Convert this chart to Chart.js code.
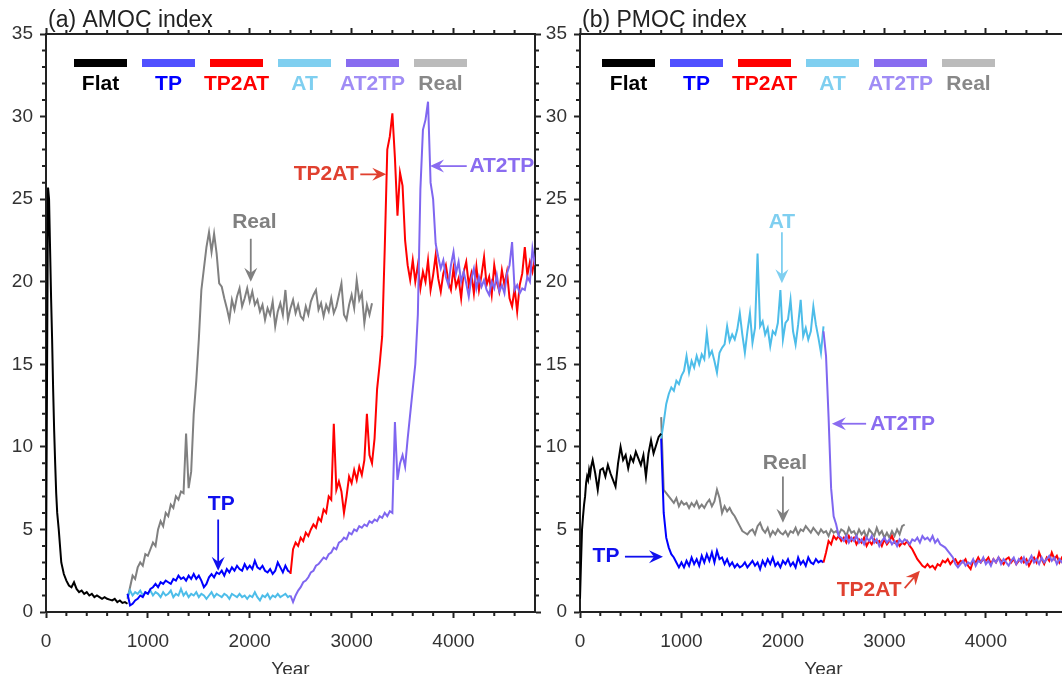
<!DOCTYPE html>
<html>
<head>
<meta charset="utf-8">
<script src="https://cdn.jsdelivr.net/npm/chart.js@4.4.1/dist/chart.umd.min.js"></script>
<style>
    html, body {
        margin: 0;
        padding: 0;
        background: #ffffff;
        overflow: hidden;
        width: 1062px;
        height: 674px;
    }
    canvas { position: absolute; top: 0; }
    #amocCanvas { left: 0; }
    #pmocCanvas { left: 530px; }
</style>
</head>
<body>
<canvas id="amocCanvas" width="545" height="674"></canvas>
<canvas id="pmocCanvas" width="550" height="674"></canvas>
<script>
/* =========================
   DATA (years, Sv)
========================= */

const seriesNames = ['Flat', 'TP', 'TP2AT', 'AT', 'AT2TP', 'Real'];

const STEP = 25;          // sampling step of the noisy runs (years)
const BRANCH_YEAR = 800;  // TP / AT / Real start here
const SWITCH_YEAR = 2400; // TP2AT / AT2TP start here

const flatYears = [0, 10, 20, 30, 40, 50, 60, 70, 80, 90, 100, 110, 125, 150, 175, 200, 225, 250, 275, 300,
    325, 350, 375, 400, 425, 450, 475, 500, 525, 550, 575, 600, 625, 650, 675, 700, 725, 750, 775, 800];

// (a) AMOC index
const amocFlat = [2.0, 14, 25.7, 25.0, 22.0, 19.0, 16.5, 13.5, 11.0, 9.0, 7.2, 6.0, 5.0, 3.0, 2.3, 1.9, 1.6, 1.5, 1.8, 1.4,
    1.2, 1.3, 1.1, 1.2, 1.0, 1.1, 0.9, 1.0, 0.9, 0.8, 0.9, 0.8, 0.75, 0.7, 0.8, 0.6, 0.7, 0.55, 0.6, 0.5];

const amocTP = [1.1, 0.4, 0.5, 0.7, 0.8, 1.0, 0.9, 1.2, 1.1, 1.4,
    1.5, 1.7, 1.5, 1.8, 1.7, 1.9, 1.8, 1.7, 2.0, 1.9,
    2.2, 2.0, 2.1, 1.9, 2.2, 2.0, 2.3, 2.0, 2.2, 1.9,
    1.5, 1.7, 2.1, 2.3, 2.1, 2.4, 2.3, 2.5, 2.2, 2.6,
    2.4, 2.7, 2.5, 2.8, 2.6, 2.5, 2.9, 2.6, 2.8, 2.6,
    3.1, 2.7, 2.6, 2.8, 2.5, 2.4, 2.6, 2.3, 2.5, 3.0,
    2.7, 2.4, 2.8, 2.5, 2.4];

const amocAT = [0.9, 1.3, 1.0, 1.2, 1.1, 1.3, 1.0, 1.2, 1.1, 1.3,
    1.0, 1.2, 1.1, 0.9, 1.2, 1.0, 1.1, 1.3, 0.9, 1.1,
    1.0, 1.4, 1.0, 1.2, 0.9, 1.1, 1.0, 1.2, 0.9, 1.1,
    1.0, 0.8, 1.0, 1.2, 0.9, 1.1, 1.0, 0.9, 1.1, 1.0,
    0.8, 1.1, 1.0, 0.9, 1.1, 0.9, 1.0, 0.8, 1.0, 0.9,
    1.2, 0.9, 0.7, 1.0, 0.9, 1.1, 0.8, 1.0, 0.9, 1.1,
    0.9, 1.0, 1.1, 0.9, 1.0];

const amocTP2AT = [2.3, 3.8, 4.2, 4.0, 4.5, 4.3, 4.8, 4.6, 5.0, 5.3,
    5.1, 5.7, 5.5, 6.2, 6.0, 7.0, 6.8, 11.4, 7.4, 7.9,
    7.3, 6.0, 7.0, 8.2, 7.8, 8.6, 8.0, 8.8, 8.3, 9.2,
    12.0, 9.5, 9.0, 10.5, 13.5, 15.0, 16.7, 22.0, 28.0, 28.8,
    30.2, 27.5, 24.0, 26.6, 25.8, 22.5, 21.0, 20.1, 21.3, 20.0,
    21.0, 19.6, 20.6, 20.0, 21.3, 19.5, 20.4, 21.6, 20.2, 19.4,
    20.5, 21.0, 20.0, 19.5, 20.8, 19.7, 20.2, 19.0, 20.6, 21.2,
    19.8, 20.5, 19.3, 20.9, 19.5, 20.4, 21.5, 19.8, 20.3, 19.2,
    21.0, 20.0, 19.4, 20.7, 19.8, 20.6, 19.0, 18.5, 19.6, 18.2,
    19.8, 20.5, 22.1, 20.4, 21.2, 20.6, 21.5];

const amocAT2TP = [1.0, 0.6, 1.0, 1.3, 1.5, 1.8, 1.9, 2.1, 2.4, 2.5,
    2.8, 2.9, 3.1, 3.3, 3.2, 3.5, 3.6, 3.9, 3.8, 4.2,
    4.3, 4.5, 4.4, 4.8, 4.7, 5.0, 4.9, 5.2, 5.1, 5.3,
    5.2, 5.5, 5.4, 5.6, 5.5, 5.8, 5.7, 6.0, 5.8, 6.1,
    6.0, 11.5, 8.0, 9.0, 9.5, 8.8, 10.5, 12.0, 13.5, 15.0,
    18.0, 25.6, 29.2, 29.8, 30.9, 26.0, 25.0, 22.3, 21.5, 20.8,
    21.3, 20.3, 19.8, 21.0, 21.8, 20.5, 21.2, 20.0, 20.6, 19.9,
    19.1, 20.2, 20.8, 19.6, 20.3, 19.7, 20.1, 19.5, 19.2, 20.0,
    19.6, 20.4, 19.4, 19.8, 19.3, 20.5, 21.0, 22.4, 19.5, 19.8,
    19.3, 19.6, 19.5, 20.3, 20.0, 22.0, 21.0];

const amocReal = [0.8, 1.5, 2.2, 2.0, 2.7, 3.0, 2.8, 3.5, 3.4, 3.8,
    4.2, 4.0, 5.0, 5.5, 5.2, 6.0, 5.8, 6.5, 6.3, 7.0,
    6.8, 7.3, 7.2, 10.8, 7.5, 8.5, 12.0, 14.0, 16.5, 19.5,
    20.8, 22.1, 23.0, 21.8, 22.9, 21.7, 19.9, 19.7, 19.0, 18.4,
    17.7, 18.9, 18.3, 19.1, 19.6, 18.5, 19.0, 19.6, 18.8, 19.4,
    18.6, 18.9, 18.2, 18.6, 17.7, 18.4, 18.0, 18.8, 17.3, 18.2,
    18.7, 18.0, 19.5, 17.7, 18.4, 18.9, 18.1, 18.6, 17.9, 17.7,
    18.5, 18.0, 18.8, 19.2, 19.5, 18.3, 18.7, 17.9, 18.6, 18.2,
    19.0, 18.1, 18.5, 19.2, 19.9, 18.0, 17.7, 18.6, 19.2, 18.4,
    20.1, 18.9, 19.3, 17.5, 18.6, 18.0, 18.7];

// (b) PMOC index
const pmocFlat = [0.8, 3.0, 5.0, 5.8, 6.5, 7.0, 7.8, 8.2, 8.0, 8.6, 8.3, 8.8, 9.2, 8.4, 7.4, 8.6, 8.7, 8.2, 8.9, 8.4,
    8.0, 7.6, 9.0, 10.0, 9.2, 9.5, 8.7, 9.4, 9.1, 9.7, 9.3, 8.9, 9.5, 8.2, 9.6, 10.4, 9.6, 10.1, 10.6, 10.8];

const pmocTP = [10.5, 6.0, 4.5, 3.9, 3.5, 3.3, 3.0, 2.7, 3.0, 2.7,
    3.1, 2.8, 3.3, 2.9, 3.2, 2.8, 3.4, 3.0, 3.5, 3.1,
    3.6, 3.0, 3.7, 3.2, 3.3, 2.9, 3.2, 2.8, 3.0, 2.7,
    2.9, 2.7, 2.8, 3.0, 2.7, 2.9, 3.1, 2.8, 3.0, 2.6,
    3.1, 2.8, 3.2, 2.9, 3.3, 2.8, 3.0, 2.7, 3.1, 2.9,
    3.2, 2.8, 3.0, 2.7, 3.3, 2.9, 3.1, 2.8, 3.3, 3.0,
    2.9, 3.2, 3.0, 3.1, 3.0];

const pmocAT = [10.5, 11.5, 12.6, 13.2, 13.6, 13.4, 14.0, 13.8, 14.3, 14.6,
    15.5, 14.5, 15.2, 14.8, 15.5, 15.0, 15.6, 15.3, 16.9, 15.5,
    15.8, 15.2, 14.5, 15.7, 16.0, 16.2, 17.3, 16.4, 16.8, 16.5,
    17.1, 18.1, 16.8, 15.7, 17.0, 18.1, 16.3, 17.2, 21.7, 17.3,
    17.6, 16.8, 17.2, 16.1, 17.0, 16.8, 17.5, 19.5, 16.5, 17.5,
    17.7, 18.9, 17.0, 16.2, 17.4, 18.9, 16.7, 17.2, 16.5, 17.0,
    18.5, 17.4, 16.6, 15.7, 17.3];

const pmocTP2AT = [3.0, 3.6, 4.3, 4.1, 4.6, 4.4, 4.6, 4.3, 4.5, 4.2,
    4.6, 4.3, 4.5, 4.1, 4.4, 4.2, 4.5, 4.0, 4.3, 4.1,
    4.4, 4.2, 4.3, 4.0, 4.4, 4.1, 4.3, 4.6, 4.2, 4.3,
    4.0, 4.2, 4.1, 4.3, 4.0, 3.8, 3.5, 3.2, 3.0, 2.8,
    2.7, 2.9, 2.7, 2.8, 2.6, 2.9, 2.8, 3.1, 3.0, 3.2,
    2.9, 3.1, 3.2, 2.9, 3.1, 3.0, 3.2, 2.8, 2.6, 3.1,
    3.0, 3.3, 3.0, 3.2, 3.1, 3.3, 2.9, 3.2, 3.0, 3.3,
    3.1, 2.9, 3.2, 3.3, 3.0, 3.2, 2.9, 3.1, 3.3, 3.0,
    3.2, 2.8, 3.1, 3.3, 3.0, 3.6, 3.2, 2.9, 3.3, 3.1,
    3.6, 3.2, 3.4, 3.0, 3.3, 3.1, 3.2];

const pmocAT2TP = [17.0, 15.5, 11.8, 7.5, 5.8, 5.3, 4.6, 4.5, 4.3, 4.6,
    4.2, 4.5, 4.3, 4.6, 4.2, 4.4, 4.1, 4.5, 4.3, 4.6,
    4.2, 4.4, 4.0, 4.3, 4.5, 4.2, 4.4, 4.1, 4.3, 4.0,
    4.4, 4.2, 4.4, 4.3, 4.1, 4.4, 4.3, 4.5, 4.2, 4.6,
    4.4, 4.5, 4.3, 4.6, 4.2, 4.4, 4.1, 4.0, 3.9, 3.7,
    3.5, 3.3, 2.9, 2.7, 2.9, 3.1, 2.8, 3.0, 2.9, 3.2,
    2.8, 3.1, 3.0, 3.3, 2.9, 3.1, 2.8, 3.2, 3.0, 3.3,
    2.9, 3.2, 3.0, 2.8, 3.1, 3.3, 2.9, 3.2, 3.0, 3.3,
    2.9, 3.1, 3.4, 3.0, 3.2, 2.9, 3.3, 3.0, 3.2, 3.4,
    3.1, 3.3, 2.9, 3.2, 3.0, 3.1, 2.9];

const pmocReal = [11.8, 7.4, 7.2, 7.0, 6.8, 6.6, 6.9, 6.4, 6.7, 6.5,
    6.6, 6.3, 6.6, 6.4, 6.7, 6.3, 6.5, 6.3, 6.6, 6.8,
    6.4, 6.7, 7.4, 6.9, 6.0, 6.4, 6.1, 6.3, 6.0, 5.8,
    5.5, 5.2, 4.9, 4.8, 4.7, 4.9, 5.0, 4.7, 5.2, 5.4,
    5.0, 4.8, 5.1, 4.6, 4.9, 4.7, 5.0, 4.8, 4.7, 4.9,
    4.6, 4.9, 4.8, 5.1, 4.7, 5.0, 4.9, 5.2, 5.0, 4.8,
    5.1, 4.9, 4.7, 5.0, 4.8, 4.9, 4.6, 5.0, 4.8, 4.9,
    4.7, 5.0, 4.9, 4.6, 5.1, 4.8, 4.9, 4.6, 5.0, 4.7,
    4.9, 4.5, 5.0, 4.8, 4.6, 5.1, 4.7, 4.9, 4.5, 4.8,
    4.5, 4.9, 4.6, 5.0, 4.7, 5.2, 5.3];

const xTickLabels = ['0', '1000', '2000', '3000', '4000'];
const yTickLabels = ['0', '5', '10', '15', '20', '25', '30', '35'];

/* =========================
   STYLES
========================= */

const FONT = "'Liberation Sans', Arial, sans-serif";

const lineColors   = ['#000000', '#0000ff', '#ff0000', '#4dbde9', '#7f66f0', '#808080'];
const swatchColors = ['#000000', '#5050ff', '#ff0000', '#7fcff0', '#886cf0', '#bbbbbb'];
const labelColors  = ['#000000', '#0000ff', '#ff0000', '#7fcff0', '#a08cf5', '#888888'];

// draw order: first dataset ends up on top
const drawOrder = [0, 4, 2, 1, 3, 5];

/* =========================
   HELPERS
========================= */

function toPoints(startYear, values) {
    return values.map((v, i) => ({ x: startYear + i * STEP, y: v }));
}

function buildDatasets(runs) {
    return drawOrder.map(i => ({
        label: seriesNames[i],
        data: runs[i],
        borderColor: lineColors[i],
        borderWidth: 2,
        pointRadius: 0,
        tension: 0,
        fill: false
    }));
}

function axisConfig(position, max, labels, size, showLabels, padding) {
    return {
        type: 'linear',
        position,
        min: 0,
        max,
        afterBuildTicks: s => {
            s.ticks = labels.map(l => ({ value: Number(l) }));
        },
        afterFit: s => {
            if (s.isHorizontal()) s.height = size;
            else s.width = size;
        },
        ticks: {
            display: showLabels,
            autoSkip: false,
            maxRotation: 0,
            color: '#333333',
            padding,
            font: { family: FONT, size: 19 },
            callback: v => String(v)
        },
        grid: {
            drawOnChartArea: false,
            drawTicks: true,
            tickLength: 6,
            tickWidth: 2,
            tickColor: '#222222'
        },
        border: { display: true, color: '#222222', width: 2 }
    };
}

function drawArrow(ctx, x1, y1, x2, y2, color) {
    const ang = Math.atan2(y2 - y1, x2 - x1);
    ctx.strokeStyle = color;
    ctx.lineWidth = 1.8;
    ctx.beginPath();
    ctx.moveTo(x1, y1);
    ctx.lineTo(x2 - Math.cos(ang) * 8, y2 - Math.sin(ang) * 8);
    ctx.stroke();
    ctx.save();
    ctx.translate(x2, y2);
    ctx.rotate(ang);
    ctx.fillStyle = color;
    ctx.beginPath();
    ctx.moveTo(0, 0);
    ctx.lineTo(-14, -6.5);
    ctx.lineTo(-9, 0);
    ctx.lineTo(-14, 6.5);
    ctx.closePath();
    ctx.fill();
    ctx.restore();
}

/* =========================
   DECORATION PLUGIN
========================= */

const panelDecor = {
    id: 'panelDecor',
    afterDraw(chart, args, opts) {
        const { ctx, chartArea, scales } = chart;
        const sx = scales.x, sy = scales.y;

        ctx.save();

        // minor ticks
        ctx.strokeStyle = '#222222';
        ctx.lineWidth = 2;
        ctx.beginPath();
        for (let v = 200; v < 4800; v += 200) {
            if (v % 1000 === 0) continue;
            const px = sx.getPixelForValue(v);
            ctx.moveTo(px, chartArea.bottom);
            ctx.lineTo(px, chartArea.bottom + 4);
            ctx.moveTo(px, chartArea.top);
            ctx.lineTo(px, chartArea.top - 4);
        }
        for (let v = 1; v < 35; v++) {
            if (v % 5 === 0) continue;
            const py = sy.getPixelForValue(v);
            ctx.moveTo(chartArea.left, py);
            ctx.lineTo(chartArea.left - 4, py);
            ctx.moveTo(chartArea.right, py);
            ctx.lineTo(chartArea.right + 4, py);
        }
        ctx.stroke();

        // panel title
        ctx.fillStyle = '#222222';
        ctx.font = `23px ${FONT}`;
        ctx.textAlign = 'left';
        ctx.textBaseline = 'alphabetic';
        ctx.fillText(opts.title, chartArea.left + 2, 27);

        // axis title
        ctx.fillStyle = '#333333';
        ctx.font = `19px ${FONT}`;
        ctx.textAlign = 'center';
        ctx.fillText('Year', (chartArea.left + chartArea.right) / 2, 675);

        // legend
        ctx.font = `bold 21px ${FONT}`;
        ctx.textBaseline = 'middle';
        seriesNames.forEach((name, i) => {
            const x0 = chartArea.left + opts.legendOffset + i * 68;
            ctx.fillStyle = swatchColors[i];
            ctx.fillRect(x0, 59, 53, 8);
            ctx.fillStyle = labelColors[i];
            ctx.fillText(name, x0 + 26.5, 84);
        });

        // annotations
        opts.notes.forEach(n => {
            ctx.fillStyle = n.color;
            ctx.fillText(n.text, sx.getPixelForValue(n.tx), sy.getPixelForValue(n.ty));
            drawArrow(
                ctx,
                sx.getPixelForValue(n.ax1), sy.getPixelForValue(n.ay1),
                sx.getPixelForValue(n.ax2), sy.getPixelForValue(n.ay2),
                n.color
            );
        });

        ctx.restore();
    }
};

/* =========================
   CHART FACTORY
========================= */

function createPanel(canvasId, runs, sizes, decor) {
    const ctx = document.getElementById(canvasId).getContext('2d');
    return new Chart(ctx, {
        type: 'line',
        data: { datasets: buildDatasets(runs) },
        options: {
            responsive: false,
            animation: false,
            devicePixelRatio: 1,
            events: [],
            layout: { padding: 0 },
            plugins: {
                legend: { display: false },
                tooltip: { enabled: false },
                panelDecor: decor
            },
            scales: {
                x: axisConfig('bottom', 4800, xTickLabels, sizes.bottom, true, 12),
                xTop: axisConfig('top', 4800, xTickLabels, sizes.top, false, 0),
                y: axisConfig('left', 35, yTickLabels, sizes.left, true, 7),
                yRight: axisConfig('right', 35, yTickLabels, sizes.right, false, 0)
            }
        },
        plugins: [panelDecor]
    });
}

/* =========================
   BUILD PANELS
========================= */

const amocRuns = [
    flatYears.map((yr, i) => ({ x: yr, y: amocFlat[i] })),
    toPoints(BRANCH_YEAR, amocTP),
    toPoints(SWITCH_YEAR, amocTP2AT),
    toPoints(BRANCH_YEAR, amocAT),
    toPoints(SWITCH_YEAR, amocAT2TP),
    toPoints(BRANCH_YEAR, amocReal)
];

const pmocRuns = [
    flatYears.map((yr, i) => ({ x: yr, y: pmocFlat[i] })),
    toPoints(BRANCH_YEAR, pmocTP),
    toPoints(SWITCH_YEAR, pmocTP2AT),
    toPoints(BRANCH_YEAR, pmocAT),
    toPoints(SWITCH_YEAR, pmocAT2TP),
    toPoints(BRANCH_YEAR, pmocReal)
];

createPanel('amocCanvas', amocRuns,
    { left: 46, right: 10, top: 34, bottom: 62 },
    {
        title: '(a) AMOC index',
        legendOffset: 28,
        notes: [
            { text: 'TP', color: '#1010ee', tx: 1720, ty: 6.5, ax1: 1690, ay1: 5.6, ax2: 1690, ay2: 2.5 },
            { text: 'Real', color: '#808080', tx: 2045, ty: 23.6, ax1: 2010, ay1: 22.6, ax2: 2010, ay2: 20.0 },
            { text: 'TP2AT', color: '#e0402f', tx: 2750, ty: 26.5, ax1: 3085, ay1: 26.5, ax2: 3340, ay2: 26.5 },
            { text: 'AT2TP', color: '#8a6cf0', tx: 4475, ty: 27.0, ax1: 4130, ay1: 27.0, ax2: 3770, ay2: 27.0 }
        ]
    });

createPanel('pmocCanvas', pmocRuns,
    { left: 50, right: 13, top: 34, bottom: 62 },
    {
        title: '(b) PMOC index',
        legendOffset: 22,
        notes: [
            { text: 'AT', color: '#7fcff0', tx: 1990, ty: 23.6, ax1: 1990, ay1: 23.0, ax2: 1990, ay2: 19.9 },
            { text: 'AT2TP', color: '#8a6cf0', tx: 3180, ty: 11.4, ax1: 2820, ay1: 11.4, ax2: 2483, ay2: 11.4 },
            { text: 'Real', color: '#808080', tx: 2020, ty: 9.0, ax1: 2000, ay1: 8.2, ax2: 2000, ay2: 5.4 },
            { text: 'TP', color: '#1010ee', tx: 256, ty: 3.35, ax1: 443, ay1: 3.35, ax2: 818, ay2: 3.35 },
            { text: 'TP2AT', color: '#e0402f', tx: 2850, ty: 1.33, ax1: 3200, ay1: 1.45, ax2: 3350, ay2: 2.5 }
        ]
    });
</script>
</body>
</html>
